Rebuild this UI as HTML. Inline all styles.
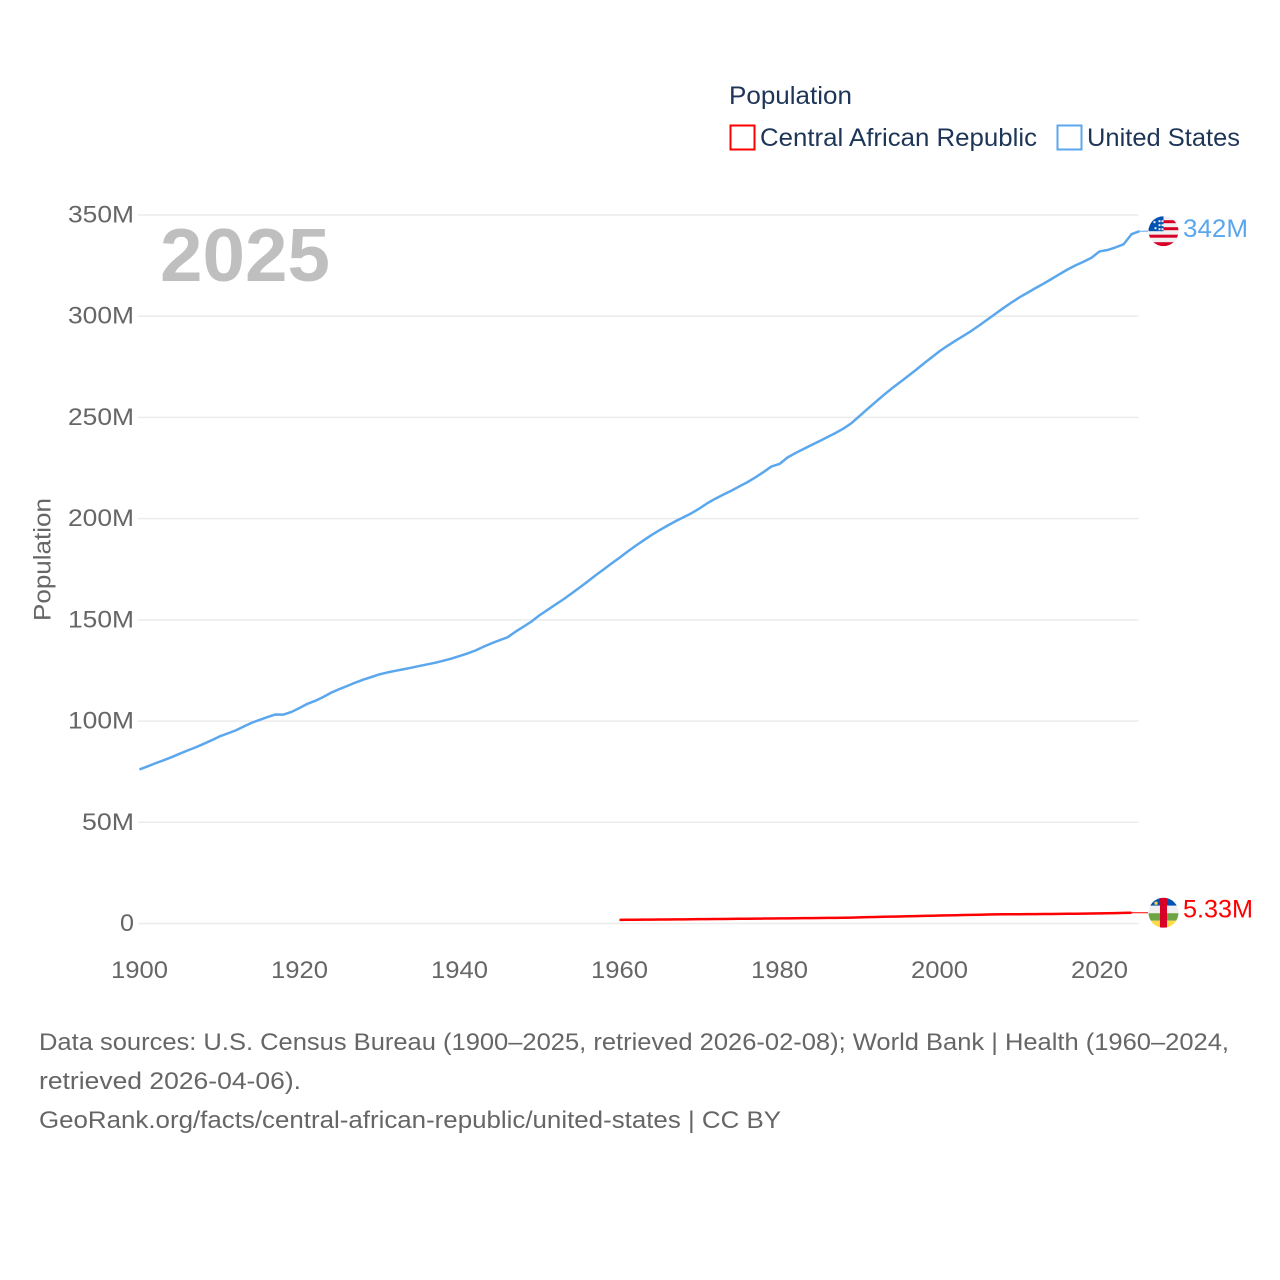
<!DOCTYPE html>
<html lang="en">
<head>
<meta charset="utf-8">
<title>Population: Central African Republic vs United States</title>
<style>
html,body{margin:0;padding:0;background:#fff;}
svg{display:block;font-family:"Liberation Sans",Arial,sans-serif;}
</style>
</head>
<body>
<svg id="chart" width="1280" height="1280" viewBox="0 0 1280 1280" xmlns="http://www.w3.org/2000/svg">
  <defs>
    <clipPath id="flag-clip"><circle cx="0" cy="0" r="15"></circle></clipPath>
  </defs>

  <g id="grid"></g>
  <g id="y-labels"></g>
  <g id="x-labels"></g>

  <text transform="translate(50.5,621) rotate(-90)" font-size="24" fill="#666" textLength="123" lengthAdjust="spacingAndGlyphs">Population</text>

  <text x="160" y="281" font-size="75" font-weight="bold" fill="#bfbfbf" textLength="170" lengthAdjust="spacingAndGlyphs">2025</text>

  <g>
    <text x="729" y="104" font-size="25" fill="#1d3557" textLength="123" lengthAdjust="spacingAndGlyphs">Population</text>
    <g>
      <rect x="730.5" y="125.5" width="24" height="24" fill="#fff" stroke="#ff0000" stroke-width="2"></rect>
      <text x="760" y="146" font-size="25" fill="#1d3557" textLength="277" lengthAdjust="spacingAndGlyphs">Central African Republic</text>
    </g>
    <g>
      <rect x="1057.5" y="125.5" width="24" height="24" fill="#fff" stroke="#5ba7ee" stroke-width="2"></rect>
      <text x="1087" y="146" font-size="25" fill="#1d3557" textLength="153" lengthAdjust="spacingAndGlyphs">United States</text>
    </g>
  </g>

  <g id="series"></g>

  <g id="flag-us">
    <g clip-path="url(#flag-clip)">
      <rect x="-15" y="-15" width="30" height="30" fill="#f0f0f0"></rect>
      <rect x="-15" y="-11" width="30" height="3" fill="#d80027"></rect>
      <rect x="-15" y="-4" width="30" height="3" fill="#d80027"></rect>
      <rect x="-15" y="3.5" width="30" height="3" fill="#d80027"></rect>
      <rect x="-15" y="11" width="30" height="4" fill="#d80027"></rect>
      <rect x="-15" y="-15" width="15" height="15" fill="#0052b4"></rect>
      <rect x="-10" y="-10" width="2" height="2" fill="#f0f0f0"></rect>
      <rect x="-5" y="-11" width="2" height="2" fill="#f0f0f0"></rect>
      <rect x="-2" y="-11" width="2" height="2" fill="#f0f0f0"></rect>
      <rect x="-5" y="-7" width="2" height="2" fill="#f0f0f0"></rect>
      <rect x="-2" y="-7" width="2" height="2" fill="#f0f0f0"></rect>
      <rect x="-9" y="-4" width="2" height="2" fill="#f0f0f0"></rect>
      <rect x="-5" y="-3" width="2" height="2" fill="#f0f0f0"></rect>
      <rect x="-2" y="-3" width="2" height="2" fill="#f0f0f0"></rect>
    </g>
  </g>

  <g id="flag-car">
    <g clip-path="url(#flag-clip)">
      <rect x="-15" y="-15" width="30" height="8" fill="#0052b4"></rect>
      <rect x="-15" y="-7" width="30" height="7.5" fill="#f0f0f0"></rect>
      <rect x="-15" y="0.5" width="30" height="7.5" fill="#6da544"></rect>
      <rect x="-15" y="8" width="30" height="7" fill="#ffda44"></rect>
      <rect x="-3.5" y="-15" width="7" height="30" fill="#d80027"></rect>
      <rect x="-9" y="-11" width="3" height="3" fill="#ffda44"></rect>
    </g>
  </g>

  <g id="end-labels"></g>

  <g font-size="24.5" fill="#666">
    <text x="39" y="1050" textLength="1190" lengthAdjust="spacingAndGlyphs">Data sources: U.S. Census Bureau (1900–2025, retrieved 2026-02-08); World Bank | Health (1960–2024,</text>
    <text x="39" y="1089" textLength="262" lengthAdjust="spacingAndGlyphs">retrieved 2026-04-06).</text>
    <text x="39" y="1128" textLength="742" lengthAdjust="spacingAndGlyphs">GeoRank.org/facts/central-african-republic/united-states | CC BY</text>
  </g>
</svg>

<script>
const yTickValues = [0, 50, 100, 150, 200, 250, 300, 350];
const yTickLabels = ["0", "50M", "100M", "150M", "200M", "250M", "300M", "350M"];
const xTickYears = [1900, 1920, 1940, 1960, 1980, 2000, 2020];
const xTickLabels = ["1900", "1920", "1940", "1960", "1980", "2000", "2020"];

const usStartYear = 1900;
const usPopulation = [
  76.09, 77.58, 79.16, 80.63, 82.17, 83.82, 85.45, 87.01, 88.71, 90.49,
  92.41, 93.86, 95.34, 97.23, 99.11, 100.55, 101.96, 103.27, 103.21, 104.51,
  106.46, 108.54, 110.05, 111.95, 114.11, 115.83, 117.40, 119.04, 120.51, 121.77,
  123.08, 124.04, 124.84, 125.58, 126.37, 127.25, 128.05, 128.83, 129.83, 130.88,
  132.12, 133.40, 134.86, 136.74, 138.40, 139.93, 141.39, 144.13, 146.63, 149.19,
  152.27, 154.88, 157.55, 160.18, 163.03, 165.93, 168.90, 171.98, 174.88, 177.83,
  180.67, 183.69, 186.54, 189.24, 191.89, 194.30, 196.56, 198.71, 200.71, 202.68,
  205.05, 207.66, 209.90, 211.91, 213.85, 215.97, 218.04, 220.40, 223.00, 225.80,
  227.00, 230.20, 232.40, 234.40, 236.40, 238.30, 240.30, 242.30, 244.50, 247.20,
  250.70, 254.20, 257.60, 261.00, 264.20, 267.20, 270.20, 273.30, 276.50, 279.60,
  282.70, 285.40, 287.90, 290.30, 292.81, 295.52, 298.38, 301.23, 304.09, 306.77,
  309.33, 311.58, 313.87, 316.06, 318.39, 320.74, 323.07, 325.12, 326.90, 328.90,
  332.00, 332.70, 334.00, 335.50, 340.50, 342.00
];
const usEndLabel = "342M";

const carStartYear = 1960;
const carPopulation = [
  1.80, 1.83, 1.86, 1.89, 1.92, 1.95, 1.98, 2.02, 2.06, 2.10,
  2.14, 2.17, 2.20, 2.24, 2.28, 2.32, 2.36, 2.40, 2.44, 2.48,
  2.52, 2.56, 2.60, 2.64, 2.68, 2.72, 2.76, 2.80, 2.86, 2.93,
  3.02, 3.12, 3.22, 3.31, 3.40, 3.49, 3.58, 3.67, 3.76, 3.85,
  3.94, 4.02, 4.10, 4.18, 4.26, 4.34, 4.42, 4.50, 4.58, 4.58,
  4.60, 4.62, 4.65, 4.68, 4.72, 4.76, 4.80, 4.84, 4.88, 4.93,
  4.98, 5.05, 5.15, 5.24, 5.33
];
const carEndLabel = "5.33M";

const SVG_NS = "http://www.w3.org/2000/svg";
function xScale(year) { return 139.5 + (year - 1900) * 8; }
function yScale(millions) { return 923.5 - millions * (708.5 / 350); }
function mk(tag, parentId, attrs, text) {
  const el = document.createElementNS(SVG_NS, tag);
  for (const k in attrs) el.setAttribute(k, attrs[k]);
  if (text !== undefined) el.textContent = text;
  document.getElementById(parentId).appendChild(el);
  return el;
}
function linePath(startYear, values) {
  return values.map(function (v, i) {
    return (i ? "L" : "M") + xScale(startYear + i).toFixed(2) + " " + yScale(v).toFixed(2);
  }).join(" ");
}

yTickValues.forEach(function (v, i) {
  const y = yScale(v);
  const grid = mk("line", "grid", { x1: 138, x2: 1138.5, y1: y, y2: y, stroke: "#ebebeb", "stroke-width": 1.5 });
  
  
  const label = yTickLabels[i];
  const width = label.length === 1 ? 14 : (label.length === 3 ? 52 : 66);
  const t = mk("text", "y-labels", { x: 134, y: y + 7.5, "text-anchor": "end", "font-size": 24, fill: "#666", textLength: width, lengthAdjust: "spacingAndGlyphs" }, label);
  
  
});

xTickYears.forEach(function (year, i) {
  const t = mk("text", "x-labels", { x: xScale(year), y: 978, "text-anchor": "middle", "font-size": 24, fill: "#666", textLength: 57, lengthAdjust: "spacingAndGlyphs" }, xTickLabels[i]);
  
  
});

const usLastY = yScale(usPopulation[usPopulation.length - 1]);
const carLastY = yScale(carPopulation[carPopulation.length - 1]);
const usLastX = xScale(usStartYear + usPopulation.length - 1);
const carLastX = xScale(carStartYear + carPopulation.length - 1);

const usLeader = mk("line", "series", { x1: usLastX, x2: 1148, y1: usLastY, y2: usLastY, stroke: "#5ba7ee", "stroke-width": 1 });


const carLeader = mk("line", "series", { x1: carLastX, x2: 1148, y1: carLastY, y2: carLastY, stroke: "#ff0000", "stroke-width": 1 });



const usLine = mk("path", "series", { d: linePath(usStartYear, usPopulation), fill: "none", stroke: "#5ba7ee", "stroke-width": 2.5, "stroke-linejoin": "round" });


const carLine = mk("path", "series", { d: linePath(carStartYear, carPopulation), fill: "none", stroke: "#ff0000", "stroke-width": 2.5, "stroke-linejoin": "round" });



document.getElementById("flag-us").setAttribute("transform", "translate(1163.5," + usLastY + ")");
document.getElementById("flag-car").setAttribute("transform", "translate(1163.5," + carLastY + ")");

const usValue = mk("text", "end-labels", { x: 1183, y: usLastY + 6, "font-size": 25, fill: "#5ba7ee", textLength: 65, lengthAdjust: "spacingAndGlyphs" }, usEndLabel);


const carValue = mk("text", "end-labels", { x: 1183, y: carLastY + 5, "font-size": 25, fill: "#ff0000", textLength: 70, lengthAdjust: "spacingAndGlyphs" }, carEndLabel);


</script>
</body>
</html>
